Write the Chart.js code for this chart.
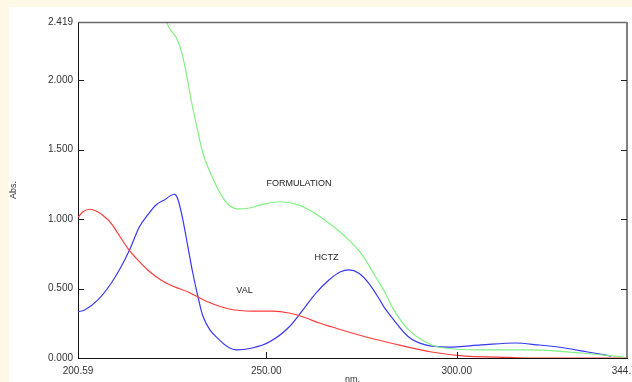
<!DOCTYPE html>
<html>
<head>
<meta charset="utf-8">
<script src="https://cdn.jsdelivr.net/npm/chart.js@4"></script>
<style>
  html, body { margin: 0; padding: 0; background: #fdf9e6; }
  #wrap { width: 632px; height: 382px; overflow: hidden; position: relative; }
  canvas { position: absolute; left: 0; top: 0; }
</style>
</head>
<body>
<div id="wrap"><canvas id="graph" width="660" height="400" style="width:660px;height:400px"></canvas></div>
<script>
// spectra: wavelength (nm) and absorbance
const valNm  = [200.59, 201.9, 203.65, 205.37, 207.57, 209.3, 211.05, 213.66, 216.28, 218.89, 222.37, 225.87, 229.35, 234.58, 240.3, 246.3, 251.6, 256.0, 260.5, 263.9, 267.3, 276.2, 284.8, 293.4, 302.3, 310.9, 318.0, 344.71];
const valAbs = [1.013, 1.053, 1.071, 1.058, 1.017, 0.97, 0.898, 0.79, 0.706, 0.634, 0.562, 0.513, 0.477, 0.405, 0.353, 0.338, 0.338, 0.324, 0.288, 0.252, 0.223, 0.151, 0.094, 0.043, 0.014, 0.007, 0.0, 0.0];

const hctzNm  = [200.59, 202.34, 205.82, 209.3, 211.91, 214.11, 216.72, 218.89, 221.06, 223.26, 225.87, 226.73, 228.04, 229.35, 230.66, 231.97, 233.4, 237.7, 242.2, 246.3, 250.8, 256.0, 259.94, 263.0, 266.47, 269.53, 271.7, 274.32, 276.93, 279.55, 280.85, 282.9, 287.4, 291.8, 297.8, 306.5, 315.4, 321.4, 328.4, 334.4, 340.5];
const hctzAbs = [0.333, 0.346, 0.418, 0.538, 0.657, 0.778, 0.945, 1.03, 1.102, 1.138, 1.179, 1.15, 1.006, 0.814, 0.621, 0.454, 0.30, 0.13, 0.058, 0.072, 0.115, 0.223, 0.358, 0.466, 0.562, 0.621, 0.634, 0.61, 0.538, 0.43, 0.37, 0.295, 0.151, 0.094, 0.079, 0.094, 0.108, 0.094, 0.072, 0.043, 0.014];

const formNm  = [215.0, 220.0, 222.5, 223.86, 226.7, 228.0, 229.1, 230.4, 231.7, 233.3, 235.6, 238.2, 240.3, 242.9, 245.6, 248.2, 253.4, 258.6, 262.1, 266.5, 270.8, 275.2, 278.7, 281.3, 283.0, 287.4, 291.8, 295.2, 306.5, 319.5, 332.6, 344.1];
const formAbs = [3.6, 3.0, 2.6, 2.419, 2.29, 2.181, 2.037, 1.843, 1.677, 1.483, 1.317, 1.173, 1.10, 1.073, 1.08, 1.10, 1.125, 1.101, 1.053, 0.97, 0.873, 0.742, 0.585, 0.466, 0.37, 0.202, 0.115, 0.079, 0.058, 0.058, 0.036, 0.007];

const xTicks = [200.59, 250, 300, 344.71];
const xTickLabels = ["200.59", "250.00", "300.00", "344.71"];
const yTicks = [0, 0.5, 1.0, 1.5, 2.0, 2.419];

// curve names written next to the curves
const notes = [
    {text: "FORMULATION", x: 258.6, y: 1.253},
    {text: "HCTZ", x: 265.8, y: 0.727},
    {text: "VAL", x: 244.3, y: 0.486}
];

function points(xs, ys) {
    let out = [];
    xs.forEach((x, i) => {
        out.push({x: x, y: ys[i]});
    });
    return out;
}

const frame = {
    id: "frame",
    beforeDraw(chart) {
        const c = chart.ctx;
        c.save();
        c.fillStyle = "#ffffff";
        c.fillRect(9, 7, chart.width, chart.height);
        c.restore();
    },
    afterDraw(chart) {
        const c = chart.ctx;
        const a = chart.chartArea;
        const xs = chart.scales.x;
        const ys = chart.scales.y;
        c.save();
        // top and right border
        c.strokeStyle = "#6a6a6a";
        c.lineWidth = 1.5;
        c.beginPath();
        c.moveTo(a.left, a.top + 0.5);
        c.lineTo(a.right, a.top + 0.5);
        c.stroke();
        c.lineWidth = 2;
        c.strokeStyle = "#808080";
        c.beginPath();
        c.moveTo(a.right, a.top);
        c.lineTo(a.right, a.bottom);
        c.stroke();
        // inward tick marks
        c.strokeStyle = "#222";
        c.lineWidth = 1;
        c.beginPath();
        ys.ticks.forEach(t => {
            const py = Math.round(ys.getPixelForValue(t.value)) + 0.5;
            if (t.value > 0 && t.value < 2.4) {
                c.moveTo(a.left, py);
                c.lineTo(a.left + 6, py);
                c.moveTo(a.right, py);
                c.lineTo(a.right - 6, py);
            }
        });
        xs.ticks.forEach(t => {
            const px = Math.round(xs.getPixelForValue(t.value)) + 0.5;
            if (t.value > 201 && t.value < 344) {
                c.moveTo(px, a.bottom);
                c.lineTo(px, a.bottom - 6);
            }
        });
        c.stroke();
        // curve names
        c.fillStyle = "#222";
        c.font = "9px 'Liberation Sans', Arial, sans-serif";
        c.textAlign = "center";
        c.textBaseline = "middle";
        notes.forEach(n => {
            c.fillText(n.text, xs.getPixelForValue(n.x), ys.getPixelForValue(n.y));
        });
        c.restore();
    }
};

const line = (label, color, data) => ({
    label: label,
    data: data,
    borderColor: color,
    borderWidth: 1.2,
    pointRadius: 0,
    fill: false,
    cubicInterpolationMode: "monotone"
});

new Chart(document.getElementById("graph").getContext("2d"), {
    type: "line",
    data: {
        datasets: [
            line("FORMULATION", "rgb(130,240,130)", points(formNm, formAbs)),
            line("VAL", "rgb(255,60,60)", points(valNm, valAbs)),
            line("HCTZ", "rgb(55,55,245)", points(hctzNm, hctzAbs))
        ]
    },
    options: {
        responsive: false,
        animation: false,
        devicePixelRatio: 1,
        layout: {padding: {left: 0, top: 22, right: 33, bottom: 0}},
        plugins: {legend: {display: false}, tooltip: {enabled: false}},
        scales: {
            x: {
                type: "linear",
                min: 200.59,
                max: 344.71,
                afterBuildTicks: scale => { scale.ticks = xTicks.map(v => ({value: v})); },
                afterFit: scale => { scale.height = 42; },
                grid: {display: false, drawTicks: false},
                border: {display: true, color: "#111", width: 1},
                ticks: {
                    autoSkip: false,
                    maxRotation: 0,
                    padding: 7,
                    color: "#333",
                    font: {family: "'Liberation Sans', Arial, sans-serif", size: 10},
                    callback: (v, i) => xTickLabels[i]
                },
                title: {
                    display: true,
                    text: "nm.",
                    color: "#333",
                    font: {family: "'Liberation Sans', Arial, sans-serif", size: 9},
                    padding: {top: 0, bottom: 15}
                }
            },
            y: {
                min: 0,
                max: 2.419,
                afterBuildTicks: scale => { scale.ticks = yTicks.map(v => ({value: v})); },
                afterFit: scale => { scale.width = 78; },
                grid: {display: false, drawTicks: false},
                border: {display: true, color: "#111", width: 1},
                ticks: {
                    padding: 5,
                    color: "#333",
                    font: {family: "'Liberation Sans', Arial, sans-serif", size: 10},
                    callback: v => v.toFixed(3)
                },
                title: {
                    display: true,
                    text: "Abs.",
                    color: "#333",
                    font: {family: "'Liberation Sans', Arial, sans-serif", size: 9},
                    padding: {top: 8, bottom: 0}
                }
            }
        }
    },
    plugins: [frame]
});
</script>
</body>
</html>
